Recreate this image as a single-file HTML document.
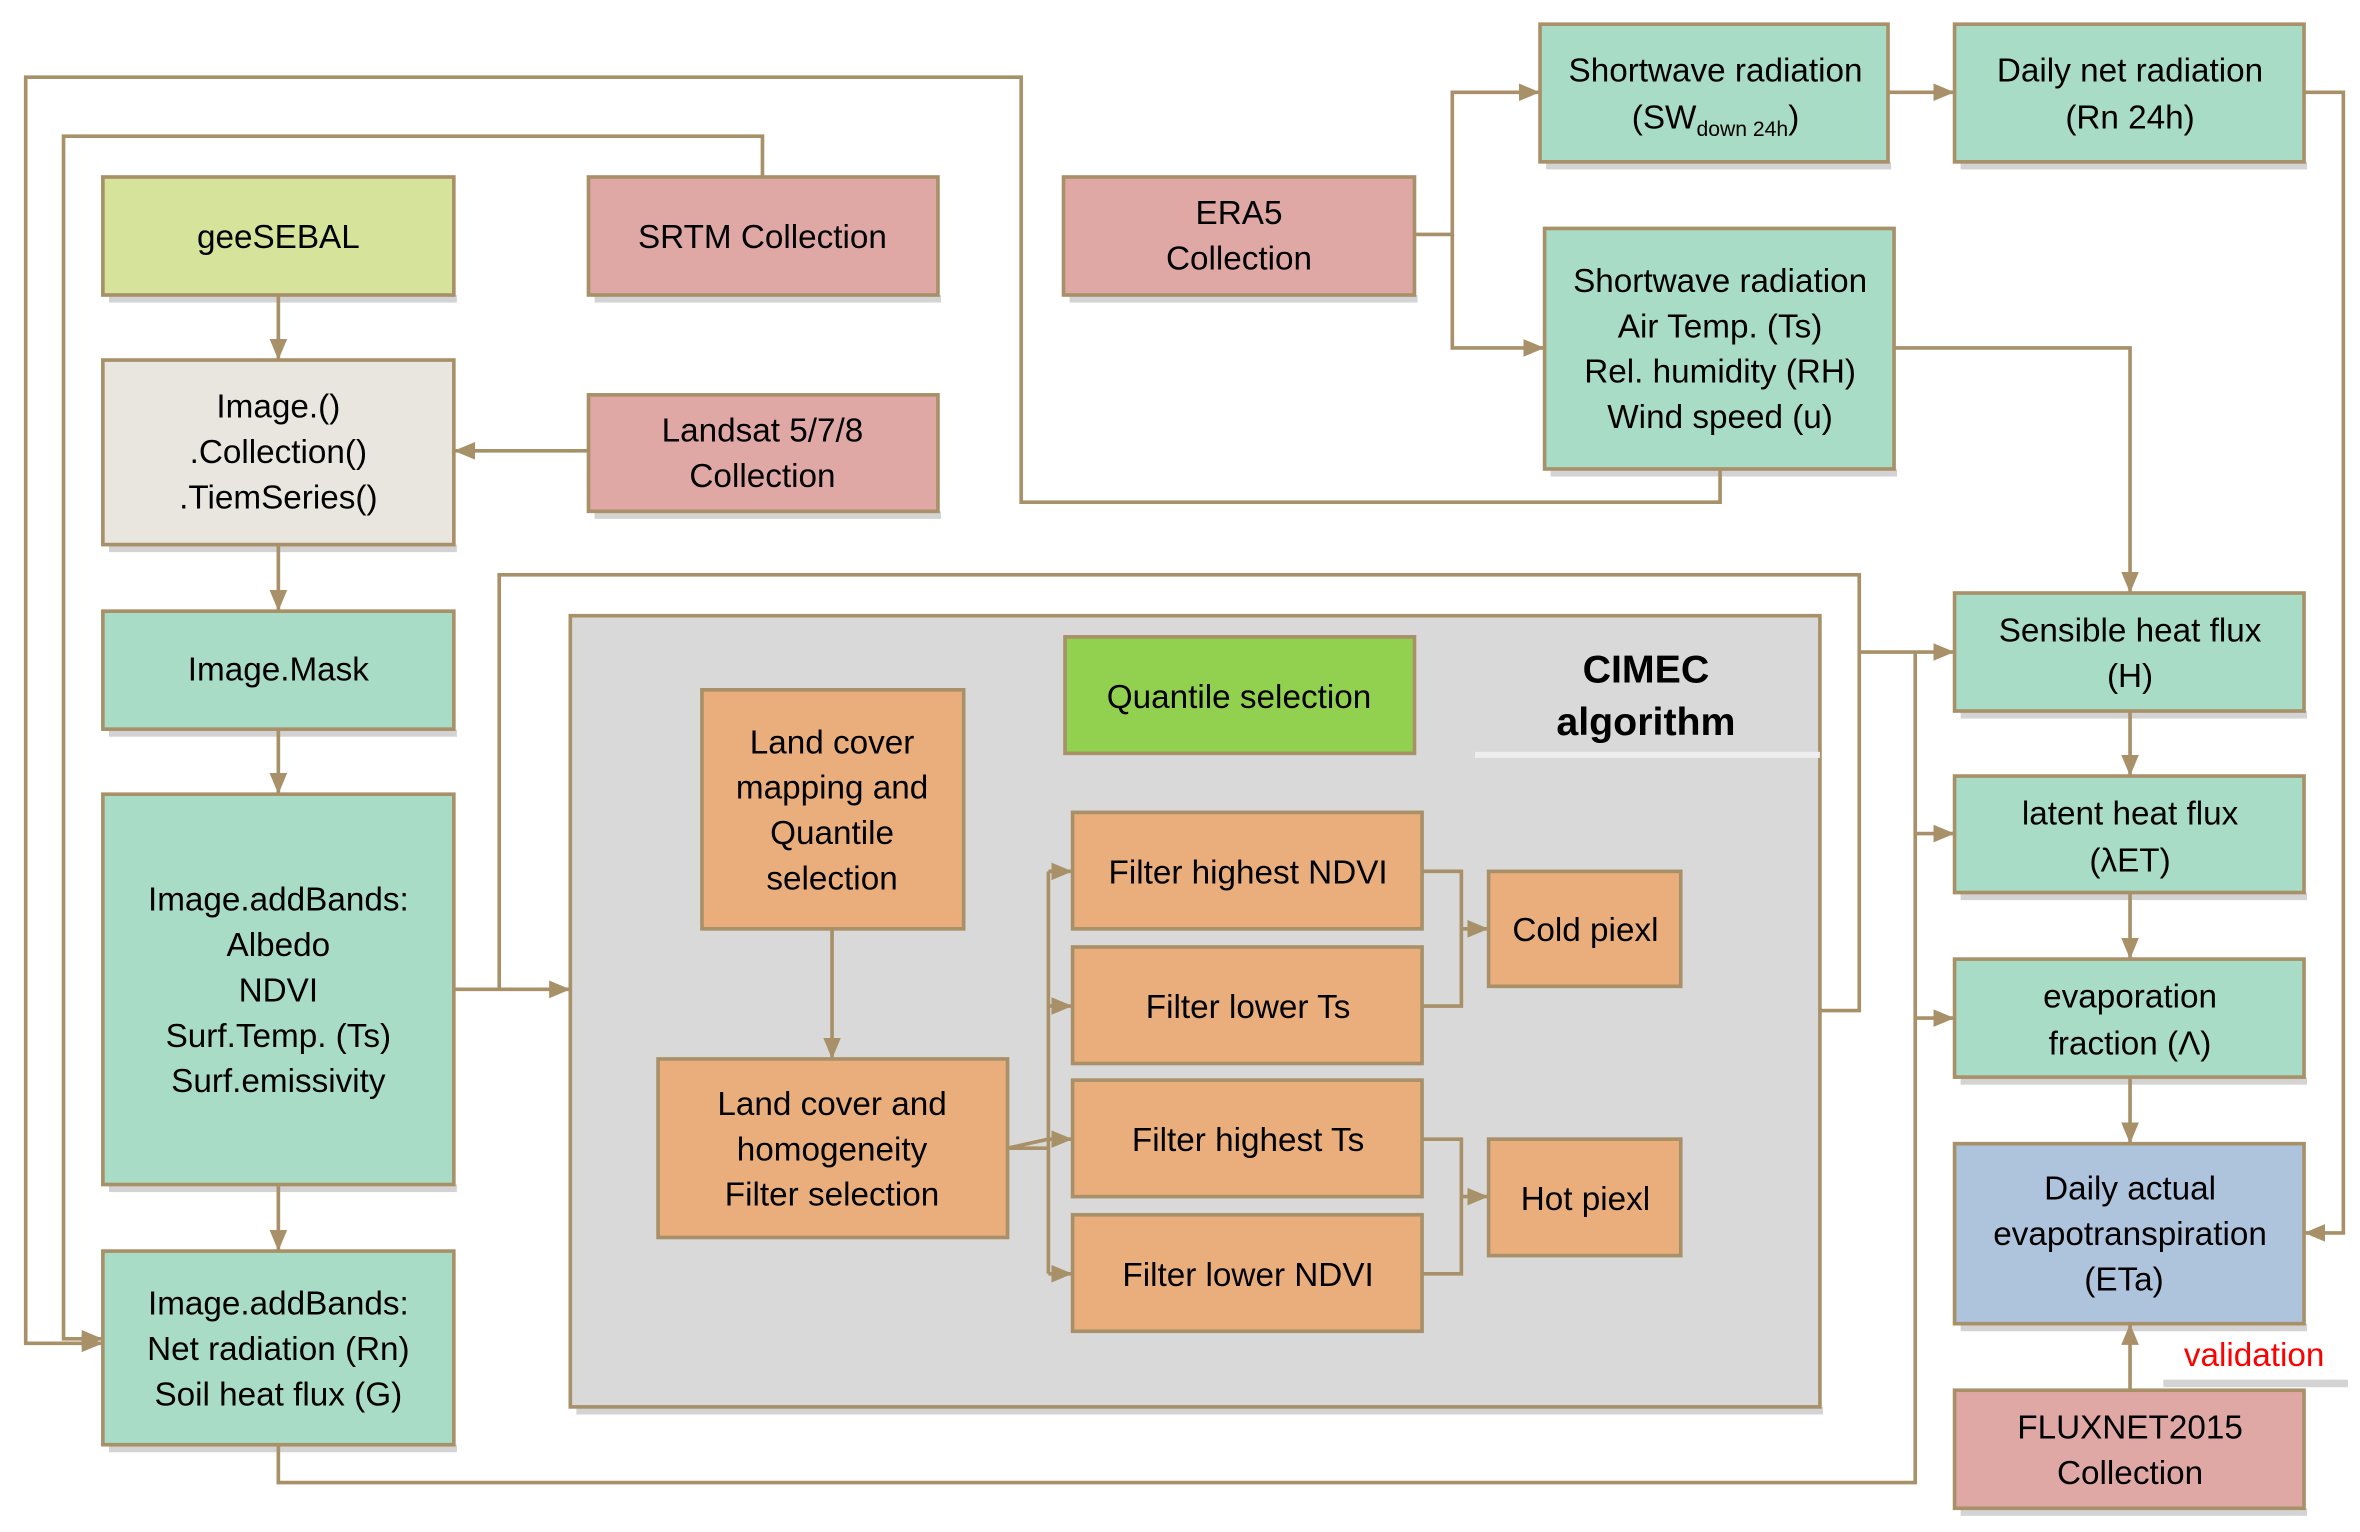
<!DOCTYPE html>
<html><head><meta charset="utf-8"><style>
html,body{margin:0;padding:0;background:#fff;}
svg{display:block;}
text{font-family:"Liberation Sans",Arial,sans-serif;font-size:22px;fill:#000;text-anchor:middle;}
</style></head><body>
<svg width="2360" height="1532" viewBox="0 0 1560 1012.7" preserveAspectRatio="none" xmlns="http://www.w3.org/2000/svg">
<defs>
<marker id="a" viewBox="0 0 12 10" refX="12" refY="5" markerWidth="14" markerHeight="12" orient="auto" markerUnits="userSpaceOnUse"><path d="M0,0L12,5L0,10z" fill="#a89068"/></marker>
</defs>
<g fill="#d3d3d3">
<rect x="72" y="195" width="230" height="5"/><rect x="393" y="195" width="229" height="5"/>
<rect x="72" y="360" width="230" height="5"/><rect x="393" y="338" width="229" height="5"/>
<rect x="72" y="482" width="230" height="5"/><rect x="72" y="783" width="230" height="5"/>
<rect x="72" y="955" width="230" height="5"/><rect x="707" y="195" width="230" height="5"/>
<rect x="1022" y="107" width="228" height="5"/><rect x="1296" y="107" width="229" height="5"/>
<rect x="1025" y="310" width="229" height="5"/><rect x="1296" y="470" width="229" height="5"/>
<rect x="1296" y="590" width="229" height="5"/><rect x="1296" y="712" width="229" height="5"/>
<rect x="1296" y="875" width="229" height="5"/><rect x="1296" y="997" width="229" height="5"/>
<rect x="381" y="930" width="824" height="5"/><rect x="1430" y="912" width="122" height="5"/>
</g>
<g stroke="#a89068" stroke-width="2.4">
<rect x="68" y="117" width="232" height="78" fill="#d6e39a"/>
<rect x="389" y="117" width="231" height="78" fill="#e0a8a5"/>
<rect x="68" y="238" width="232" height="122" fill="#e9e6df"/>
<rect x="389" y="261" width="231" height="77" fill="#e0a8a5"/>
<rect x="68" y="404" width="232" height="78" fill="#a8dcc7"/>
<rect x="68" y="525" width="232" height="258" fill="#a8dcc7"/>
<rect x="68" y="827" width="232" height="128" fill="#a8dcc7"/>
<rect x="703" y="117" width="232" height="78" fill="#e0a8a5"/>
<rect x="1018" y="16" width="230" height="91" fill="#a8dcc7"/>
<rect x="1292" y="16" width="231" height="91" fill="#a8dcc7"/>
<rect x="1021" y="151" width="231" height="159" fill="#a8dcc7"/>
<rect x="1292" y="392" width="231" height="78" fill="#a8dcc7"/>
<rect x="1292" y="513" width="231" height="77" fill="#a8dcc7"/>
<rect x="1292" y="634" width="231" height="78" fill="#a8dcc7"/>
<rect x="1292" y="756" width="231" height="119" fill="#aec3dc"/>
<rect x="1292" y="919" width="231" height="78" fill="#e0a8a5"/>
<rect x="377" y="407" width="826" height="523" fill="#d9d9d9"/>
<rect x="704" y="421" width="231" height="77" fill="#92d050"/>
<rect x="464" y="456" width="173" height="158" fill="#e9ae7c"/>
<rect x="435" y="700" width="231" height="118" fill="#e9ae7c"/>
<rect x="709" y="537" width="231" height="77" fill="#e9ae7c"/>
<rect x="709" y="626" width="231" height="77" fill="#e9ae7c"/>
<rect x="709" y="714" width="231" height="77" fill="#e9ae7c"/>
<rect x="709" y="803" width="231" height="77" fill="#e9ae7c"/>
<rect x="984" y="576" width="127" height="76" fill="#e9ae7c"/>
<rect x="984" y="753" width="127" height="77" fill="#e9ae7c"/>
</g>
<rect x="975" y="497" width="228" height="4" fill="#eeeeee"/>
<g stroke="#a89068" stroke-width="2.4" fill="none">
<path d="M184,195V238" marker-end="url(#a)"/>
<path d="M184,360V404" marker-end="url(#a)"/>
<path d="M184,482V525" marker-end="url(#a)"/>
<path d="M184,783V827" marker-end="url(#a)"/>
<path d="M389,298H300" marker-end="url(#a)"/>
<path d="M1137,310V332H675V51H17V888H68" marker-end="url(#a)"/>
<path d="M504,117V90H42V885H68" marker-end="url(#a)"/>
<path d="M300,654H377" marker-end="url(#a)"/>
<path d="M330,654V380H1229V668H1203"/>
<path d="M1229,431H1292" marker-end="url(#a)"/>
<path d="M184,955V980H1266V431"/>
<path d="M1266,551H1292" marker-end="url(#a)"/>
<path d="M1266,673H1292" marker-end="url(#a)"/>
<path d="M935,155H960V61H1018" marker-end="url(#a)"/>
<path d="M960,155V230H1021" marker-end="url(#a)"/>
<path d="M1248,61H1292" marker-end="url(#a)"/>
<path d="M1523,61H1549V815H1523" marker-end="url(#a)"/>
<path d="M1252,230H1408V392" marker-end="url(#a)"/>
<path d="M1408,470V513" marker-end="url(#a)"/>
<path d="M1408,590V634" marker-end="url(#a)"/>
<path d="M1408,712V756" marker-end="url(#a)"/>
<path d="M1408,919V875" marker-end="url(#a)"/>
<path d="M550,614V700" marker-end="url(#a)"/>
<path d="M666,759H693"/>
<path d="M693,576V842"/>
<path d="M693,576H709" marker-end="url(#a)"/>
<path d="M693,665H709" marker-end="url(#a)"/>
<path d="M693,753H709" marker-end="url(#a)"/>
<path d="M693,842H709" marker-end="url(#a)"/>
<path d="M666,759L693,753"/>
<path d="M940,576H966V665H940"/>
<path d="M966,614H984" marker-end="url(#a)"/>
<path d="M940,753H966V842H940"/>
<path d="M966,791H984" marker-end="url(#a)"/>
</g>
<text x="184" y="164">geeSEBAL</text>
<text x="504" y="164">SRTM Collection</text>
<text x="184" y="276">Image.()</text>
<text x="184" y="306">.Collection()</text>
<text x="184" y="336">.TiemSeries()</text>
<text x="504" y="292">Landsat 5/7/8</text>
<text x="504" y="322">Collection</text>
<text x="184" y="450">Image.Mask</text>
<text x="184" y="602">Image.addBands:</text>
<text x="184" y="632">Albedo</text>
<text x="184" y="662">NDVI</text>
<text x="184" y="692">Surf.Temp. (Ts)</text>
<text x="184" y="722">Surf.emissivity</text>
<text x="184" y="869">Image.addBands:</text>
<text x="184" y="899">Net radiation (Rn)</text>
<text x="184" y="929">Soil heat flux (G)</text>
<text x="819" y="148">ERA5</text>
<text x="819" y="178">Collection</text>
<text x="1134" y="54">Shortwave radiation</text>
<text x="1134" y="85">(SW<tspan font-size="14" dy="5">down 24h</tspan><tspan dy="-5">)</tspan></text>
<text x="1408" y="54">Daily net radiation</text>
<text x="1408" y="85">(Rn 24h)</text>
<text x="1137" y="193">Shortwave radiation</text>
<text x="1137" y="223">Air Temp. (Ts)</text>
<text x="1137" y="253">Rel. humidity (RH)</text>
<text x="1137" y="283">Wind speed (u)</text>
<text x="1408" y="424">Sensible heat flux</text>
<text x="1408" y="454">(H)</text>
<text x="1408" y="545">latent heat flux</text>
<text x="1408" y="576">(λET)</text>
<text x="1408" y="666">evaporation</text>
<text x="1408" y="697">fraction (Λ)</text>
<text x="1408" y="793">Daily actual</text>
<text x="1408" y="823">evapotranspiration</text>
<text x="1404" y="853">(ETa)</text>
<text x="1408" y="951">FLUXNET2015</text>
<text x="1408" y="981">Collection</text>
<text x="1490" y="903" style="fill:#ff0000">validation</text>
<text x="819" y="468">Quantile selection</text>
<text x="1088" y="451" style="font-weight:bold;font-size:26px">CIMEC</text>
<text x="1088" y="486" style="font-weight:bold;font-size:26px">algorithm</text>
<text x="550" y="498">Land cover</text>
<text x="550" y="528">mapping and</text>
<text x="550" y="558">Quantile</text>
<text x="550" y="588">selection</text>
<text x="550" y="737">Land cover and</text>
<text x="550" y="767">homogeneity</text>
<text x="550" y="797">Filter selection</text>
<text x="825" y="584">Filter highest NDVI</text>
<text x="825" y="673">Filter lower Ts</text>
<text x="825" y="761">Filter highest Ts</text>
<text x="825" y="850">Filter lower NDVI</text>
<text x="1048" y="622">Cold piexl</text>
<text x="1048" y="800">Hot piexl</text>
</svg>
</body></html>
